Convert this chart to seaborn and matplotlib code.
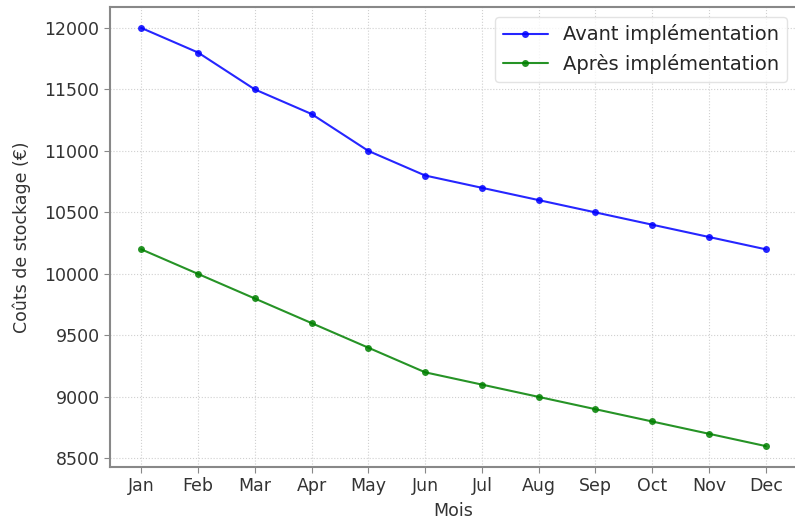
import matplotlib
matplotlib.use("Agg")
import matplotlib.pyplot as plt
import seaborn as sns
import pandas as pd

months = ["Jan", "Feb", "Mar", "Apr", "May", "Jun", "Jul", "Aug", "Sep", "Oct", "Nov", "Dec"]
avant = [12000, 11800, 11500, 11300, 11000, 10800, 10700, 10600, 10500, 10400, 10300, 10200]
apres = [10200, 10000, 9800, 9600, 9400, 9200, 9100, 9000, 8900, 8800, 8700, 8600]
series_names = ["Avant implémentation", "Après implémentation"]

df = pd.DataFrame({
    "Mois": months * 2,
    "Coût": avant + apres,
    "Série": [series_names[0]] * len(months) + [series_names[1]] * len(months),
})

sns.set_style("whitegrid", {"grid.linestyle": ":", "grid.color": "#d0d0d0",
                            "axes.edgecolor": "#888888"})
plt.rcParams["font.family"] = ["DejaVu Sans"]

fig = plt.figure(figsize=(7.95, 5.21), dpi=100)
ax = fig.add_axes([110 / 795, 1 - 467 / 521, 687 / 795, 460 / 521])

sns.lineplot(data=df, x="Mois", y="Coût", hue="Série", palette=["blue", "green"],
             marker="o", markersize=5, markeredgewidth=0, linewidth=1.5, alpha=0.85,
             sort=False, ax=ax)

ax.set_xlabel("Mois", fontsize=12.5, color="#333333", labelpad=5)
ax.set_ylabel("Coûts de stockage (€)", fontsize=12.5, color="#333333", labelpad=10)
ax.tick_params(axis="both", labelsize=12.5, colors="#333333", length=4, left=True, bottom=True)
ax.tick_params(axis="both", color="#888888")
ax.set_yticks([8500, 9000, 9500, 10000, 10500, 11000, 11500, 12000])
for s in ax.spines.values():
    s.set_linewidth(1.5)
leg = ax.legend(loc="upper right", fontsize=14, frameon=True, borderaxespad=0.5,
                handlelength=2.3)
leg.get_frame().set_edgecolor("#dddddd")

fig.savefig("out.png", dpi=100)
